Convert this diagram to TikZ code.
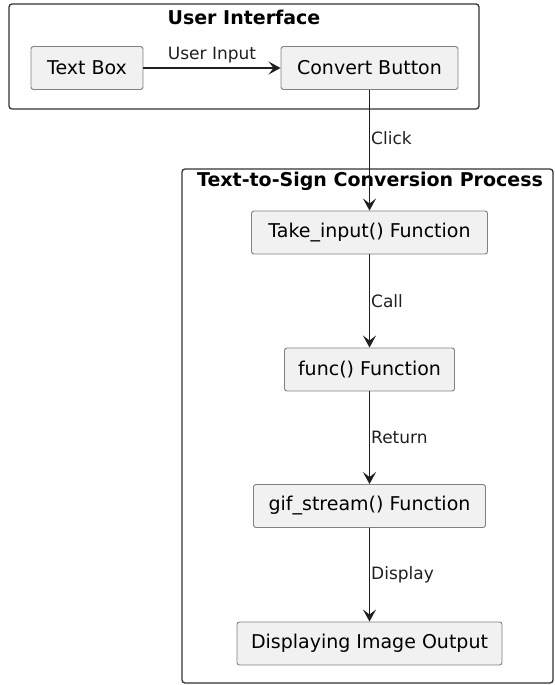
\documentclass[tikz,border=0pt]{standalone}
\usepackage{fontspec}
\setmainfont{DejaVu Sans}
\usetikzlibrary{arrows.meta}
\usetikzlibrary{positioning}
\tikzset{>={Stealth[length=12pt,width=13pt,inset=5pt]}}
\colorlet{boxFill}{black!5.5}
\colorlet{boxLine}{black!50}
\colorlet{frameLine}{black!80}
\colorlet{penColor}{black!88}
\tikzset{
  stepbox/.style={draw=boxLine,fill=boxFill,rounded corners=2.5pt,line width=0.9pt,
    minimum height=43pt,inner xsep=13.5pt,font=\fontsize{19}{23}\selectfont},
  framebox/.style={draw=frameLine,line width=1.3pt,rounded corners=3pt},
  frametitle/.style={font=\bfseries\fontsize{19}{23}\selectfont},
  flowlabel/.style={font=\fontsize{17}{20}\selectfont,inner sep=1pt},
  flow/.style={->,penColor,line width=1.4pt}
}
\begin{document}
\begin{tikzpicture}[x=1pt,y=-1pt]
\useasboundingbox (0,0) rectangle (554,685);
% user interface
\draw[framebox] (9,4) rectangle (479,109);
\node[frametitle] (uiTitle) at (244,17) {User Interface};
\node[stepbox,minimum width=112pt] (textBox) at (87,68) {Text Box};
\node[stepbox,minimum width=177pt] (convertBtn) at (369.5,68) {Convert Button};
% conversion process
\draw[framebox] (182,169) rectangle (553,683);
\node[frametitle] (procTitle) at (370,181) {Text-to-Sign Conversion Process};
\node[stepbox,minimum width=236pt] (takeInput) at (369.5,232.5) {Take\_input() Function};
\node[stepbox,minimum width=170pt] (funcFn) at (369.5,369.5) {func() Function};
\node[stepbox,minimum width=232pt] (gifStream) at (369.5,506) {gif\_stream() Function};
\node[stepbox,minimum width=265pt] (dispOut) at (369.5,643.5) {Displaying Image Output};
% arrows
\draw[flow] (textBox) -- node[flowlabel,above=3pt] (lblInput) {User Input} (convertBtn);
\draw[flow] (convertBtn.south -| takeInput.north) -- node[flowlabel,right,pos=0.4] (lblClick) {Click} (takeInput.north);
\draw[flow] (takeInput) -- node[flowlabel,right] (lblCall) {Call} (funcFn);
\draw[flow] (funcFn) -- node[flowlabel,right] (lblReturn) {Return} (gifStream);
\draw[flow] (gifStream) -- node[flowlabel,right] (lblDisplay) {Display} (dispOut);
\end{tikzpicture}
\end{document}
